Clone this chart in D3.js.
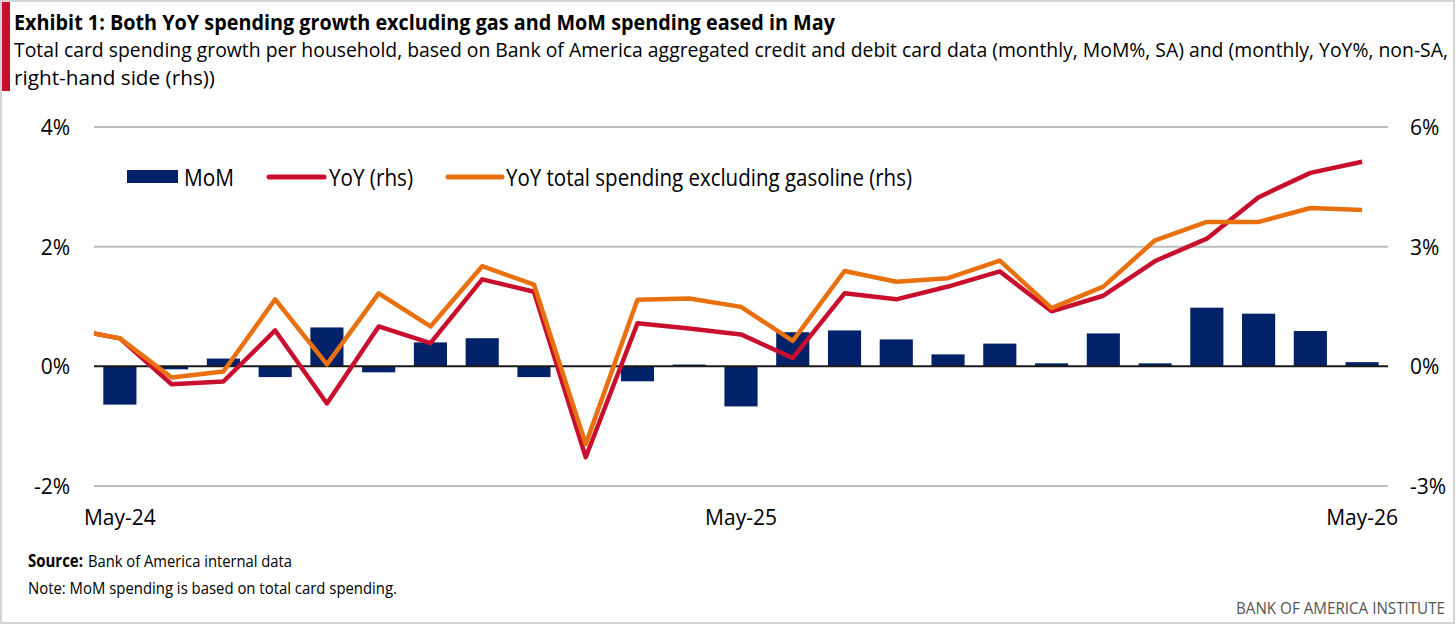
<!DOCTYPE html>
<html>
  <head>
    <title>Card spending</title>
    <style>
      body,
      html {
        margin: 0;
        padding: 0;
        background: #fff;
      }
      svg text {
        font-family: 'Open Sans', sans-serif;
        fill: #000;
      }
    </style>
  </head>
  <body>
    <script src="https://cdn.jsdelivr.net/npm/d3@7"></script>
    <script>
      const months = [
        'May-24', 'Jun-24', 'Jul-24', 'Aug-24', 'Sep-24', 'Oct-24', 'Nov-24', 'Dec-24',
        'Jan-25', 'Feb-25', 'Mar-25', 'Apr-25', 'May-25', 'Jun-25', 'Jul-25', 'Aug-25',
        'Sep-25', 'Oct-25', 'Nov-25', 'Dec-25', 'Jan-26', 'Feb-26', 'Mar-26', 'Apr-26',
        'May-26'
      ];
      const tickMonths = ['May-24', 'May-25', 'May-26'];
      // MoM % (left axis)
      const mom = [
        -0.64, -0.05, 0.13, -0.18, 0.65, -0.1, 0.4, 0.47,
        -0.18, 0.0, -0.25, 0.03, -0.67, 0.57, 0.6, 0.45,
        0.2, 0.38, 0.05, 0.55, 0.05, 0.98, 0.88, 0.59,
        0.07
      ];
      // YoY % (right axis); the "Prev" value is Apr-24, clipped at the plot edge
      const yoyPrev = 0.95;
      const yoy = [
        0.7, -0.45, -0.38, 0.9, -0.93, 1.0, 0.58, 2.18,
        1.87, -2.28, 1.08, 0.95, 0.8, 0.21, 1.83, 1.68,
        2.0, 2.38, 1.38, 1.77, 2.64, 3.2, 4.24, 4.85,
        5.13
      ];
      const exGasPrev = 0.95;
      const yoyExGas = [
        0.7, -0.28, -0.13, 1.68, 0.05, 1.83, 1.0, 2.51,
        2.05, -1.95, 1.67, 1.7, 1.49, 0.64, 2.39, 2.12,
        2.21, 2.65, 1.46, 2.0, 3.16, 3.62, 3.62, 3.97,
        3.92
      ];
      const leftTicks = [-2, 0, 2, 4];
      const rightTicks = [-3, 0, 3, 6];

      const width = 1456;
      const height = 625;
      const margin = { top: 127, right: 68, bottom: 139, left: 94 };
      const innerW = width - margin.left - margin.right;
      const innerH = height - margin.top - margin.bottom;

      const navy = '#012169';
      const red = '#c8102e';
      const orange = '#e8700f';

      const svg = d3
        .select('body')
        .append('svg')
        .attr('width', width)
        .attr('height', height);

      // fit a text to the width it has in the original (narrow corporate font)
      function addText(parent, x, y, size, str, len) {
        const t = parent.append('text').attr('x', x).attr('y', y).attr('font-size', size).text(str);
        if (len) t.attr('textLength', len).attr('lengthAdjust', 'spacingAndGlyphs');
        return t;
      }

      // frame and red accent
      svg.append('rect')
        .attr('x', 1).attr('y', 1)
        .attr('width', width - 3).attr('height', height - 3)
        .attr('fill', 'none').attr('stroke', '#c8c8c8').attr('stroke-width', 1.5);
      svg.append('rect')
        .attr('x', 2).attr('y', 2)
        .attr('width', 8).attr('height', 89)
        .attr('fill', red);

      // titles
      addText(svg, 14, 30, 22, 'Exhibit 1: Both YoY spending growth excluding gas and MoM spending eased in May', 821)
        .attr('font-weight', 'bold');
      addText(svg, 14, 57, 19.5,
        'Total card spending growth per household, based on Bank of America aggregated credit and debit card data (monthly, MoM%, SA) and (monthly, YoY%, non-SA,', 1434);
      addText(svg, 14, 85, 19.5, 'right-hand side (rhs))', 201);

      const g = svg.append('g').attr('transform', `translate(${margin.left},${margin.top})`);

      const x = d3.scaleBand().domain(months).range([0, innerW]).paddingInner(0.36).paddingOuter(0.18);
      const cx = (m) => x(m) + x.bandwidth() / 2;
      const yL = d3.scaleLinear().domain([-2, 4]).range([innerH, 0]);
      const yR = d3.scaleLinear().domain([-3, 6]).range([innerH, 0]);

      // gridlines
      g.selectAll('.grid')
        .data(leftTicks.filter((d) => d !== 0))
        .enter()
        .append('line')
        .attr('x1', 0).attr('x2', innerW)
        .attr('y1', (d) => yL(d)).attr('y2', (d) => yL(d))
        .attr('stroke', '#bdbdbd').attr('stroke-width', 2);

      // axes labels
      const leftAxis = g.append('g').call(
        d3.axisLeft(yL).tickValues(leftTicks).tickSize(0).tickPadding(24).tickFormat((d) => d + '%')
      );
      const rightAxis = g.append('g').attr('transform', `translate(${innerW},0)`).call(
        d3.axisRight(yR).tickValues(rightTicks).tickSize(0).tickPadding(22).tickFormat((d) => d + '%')
      );
      const bottomAxis = g.append('g').attr('transform', `translate(0,${innerH})`).call(
        d3.axisBottom(x).tickValues(tickMonths).tickSize(0).tickPadding(24)
      );
      [leftAxis, rightAxis, bottomAxis].forEach((a) => {
        a.select('.domain').remove();
        a.selectAll('text').attr('font-size', 21).attr('fill', '#000');
      });
      leftAxis.selectAll('text').attr('dy', '0.36em');
      rightAxis.selectAll('text').attr('dy', '0.36em');

      // bars
      g.selectAll('.bar')
        .data(months)
        .enter()
        .append('rect')
        .attr('x', (m) => x(m))
        .attr('width', x.bandwidth())
        .attr('y', (m, i) => yL(Math.max(0, mom[i])))
        .attr('height', (m, i) => Math.abs(yL(mom[i]) - yL(0)))
        .attr('fill', navy);

      // zero line
      g.append('line')
        .attr('x1', 0).attr('x2', innerW)
        .attr('y1', yL(0)).attr('y2', yL(0))
        .attr('stroke', '#1a1a1a').attr('stroke-width', 2);

      // lines, clipped to the plot area
      svg.append('clipPath').attr('id', 'plot')
        .append('rect').attr('x', 0).attr('y', -10).attr('width', innerW).attr('height', innerH + 20);
      const step = x.step();
      const linePts = (prev, vals) =>
        [[cx(months[0]) - step, prev]].concat(vals.map((v, i) => [cx(months[i]), v]));
      const line = d3.line().x((d) => d[0]).y((d) => yR(d[1]));
      const lines = g.append('g').attr('clip-path', 'url(#plot)');
      lines.append('path')
        .attr('d', line(linePts(yoyPrev, yoy)))
        .attr('fill', 'none').attr('stroke', red).attr('stroke-width', 4.5)
        .attr('stroke-linejoin', 'round');
      lines.append('path')
        .attr('d', line(linePts(exGasPrev, yoyExGas)))
        .attr('fill', 'none').attr('stroke', orange).attr('stroke-width', 4.5)
        .attr('stroke-linejoin', 'round');

      // legend
      const legend = svg.append('g').attr('transform', 'translate(0,177)');
      legend.append('rect').attr('x', 127).attr('y', -7).attr('width', 51).attr('height', 13).attr('fill', navy);
      addText(legend, 184, 0, 24, 'MoM', 50).attr('dy', '0.36em');
      legend.append('line').attr('x1', 269).attr('x2', 324).attr('y1', 0).attr('y2', 0)
        .attr('stroke', red).attr('stroke-width', 5).attr('stroke-linecap', 'round');
      addText(legend, 329, 0, 24, 'YoY (rhs)', 84).attr('dy', '0.36em');
      legend.append('line').attr('x1', 448).attr('x2', 502).attr('y1', 0).attr('y2', 0)
        .attr('stroke', orange).attr('stroke-width', 5).attr('stroke-linecap', 'round');
      addText(legend, 506, 0, 24, 'YoY total spending excluding gasoline (rhs)', 406).attr('dy', '0.36em');

      // footer
      addText(svg, 28, 567, 17, 'Source:', 55).attr('font-weight', 'bold');
      addText(svg, 88, 567, 17, 'Bank of America internal data', 204);
      addText(svg, 28, 594, 17, 'Note: MoM spending is based on total card spending.', 369);
      addText(svg, 1445, 614, 17, 'BANK OF AMERICA INSTITUTE', 209)
        .attr('text-anchor', 'end').style('fill', '#555');
    </script>
  </body>
</html>
